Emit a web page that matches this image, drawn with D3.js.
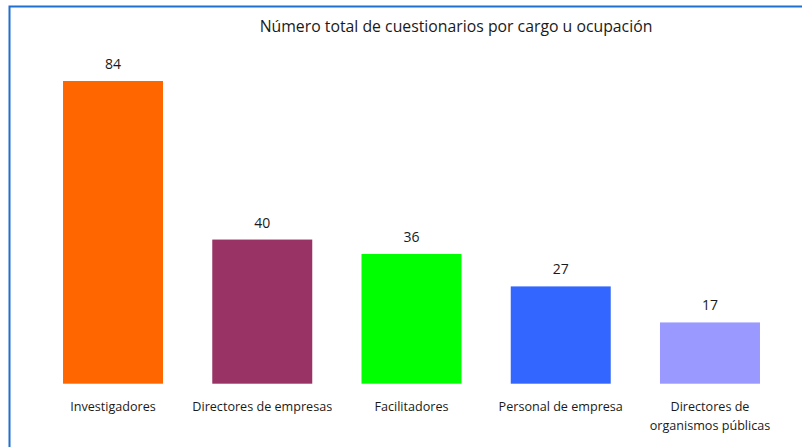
<!DOCTYPE html>
<html>
<head>
<meta charset="utf-8">
<script src="https://cdn.jsdelivr.net/npm/d3@7"></script>
<style>
  body { margin: 0; background: #fff; }
  svg { display: block; }
  text { font-family: "Open Sans", "Noto Sans", sans-serif; fill: #1a1a1a; }
</style>
</head>
<body>
<div class="visHolder"></div>
<script>
const w = 802, h = 447;

const categories = ['Investigadores', 'Directores de empresas', 'Facilitadores', 'Personal de empresa', 'Directores de organismos públicas'];
const tickLabels = [['Investigadores'], ['Directores de empresas'], ['Facilitadores'], ['Personal de empresa'], ['Directores de', 'organismos públicas']];
const values = [84, 40, 36, 27, 17];
const colors = ['#ff6600', '#993366', '#00ff00', '#3366ff', '#9999ff'];

const svg = d3.select('.visHolder')
  .append('svg')
  .attr('width', w)
  .attr('height', h);

// chart frame, runs off the right and bottom edge
svg.append('rect')
  .attr('x', 9.5)
  .attr('y', 6.5)
  .attr('width', w)
  .attr('height', h)
  .attr('fill', 'none')
  .attr('stroke', '#1f70d0')
  .attr('stroke-width', 2);

svg.append('text')
  .attr('x', 456)
  .attr('y', 32)
  .attr('text-anchor', 'middle')
  .style('font-size', '15.8px')
  .text('Número total de cuestionarios por cargo u ocupación');

const xScale = d3.scaleBand()
  .domain(categories)
  .range([38.4, 784.6])
  .paddingInner(0.33)
  .paddingOuter(0.165);

const yScale = d3.scaleLinear()
  .domain([0, 84])
  .range([383.7, 81]);

svg.selectAll('.bar')
  .data(values)
  .join('rect')
  .attr('class', 'bar')
  .attr('x', (d, i) => xScale(categories[i]))
  .attr('y', d => yScale(d))
  .attr('width', xScale.bandwidth())
  .attr('height', d => yScale(0) - yScale(d))
  .attr('fill', (d, i) => colors[i]);

svg.selectAll('.value')
  .data(values)
  .join('text')
  .attr('class', 'value')
  .attr('x', (d, i) => xScale(categories[i]) + xScale.bandwidth() / 2)
  .attr('y', d => yScale(d) - 12)
  .attr('text-anchor', 'middle')
  .style('font-size', '14px')
  .text(d => d);

const xAxis = d3.axisBottom(xScale).tickSize(0).tickFormat('');
const gx = svg.append('g')
  .attr('id', 'x-axis')
  .attr('transform', `translate(0, ${yScale(0)})`)
  .call(xAxis);
gx.select('.domain').remove();

gx.selectAll('.tick').each(function (d, i) {
  const t = d3.select(this).select('text')
    .attr('y', 0)
    .attr('dy', null)
    .style('font-size', '12.6px')
    .attr('fill', '#1a1a1a');
  tickLabels[i].forEach((line, j) => {
    t.append('tspan')
      .attr('x', 0)
      .attr('y', 27.5 + j * 19)
      .text(line);
  });
});
</script>
</body>
</html>
